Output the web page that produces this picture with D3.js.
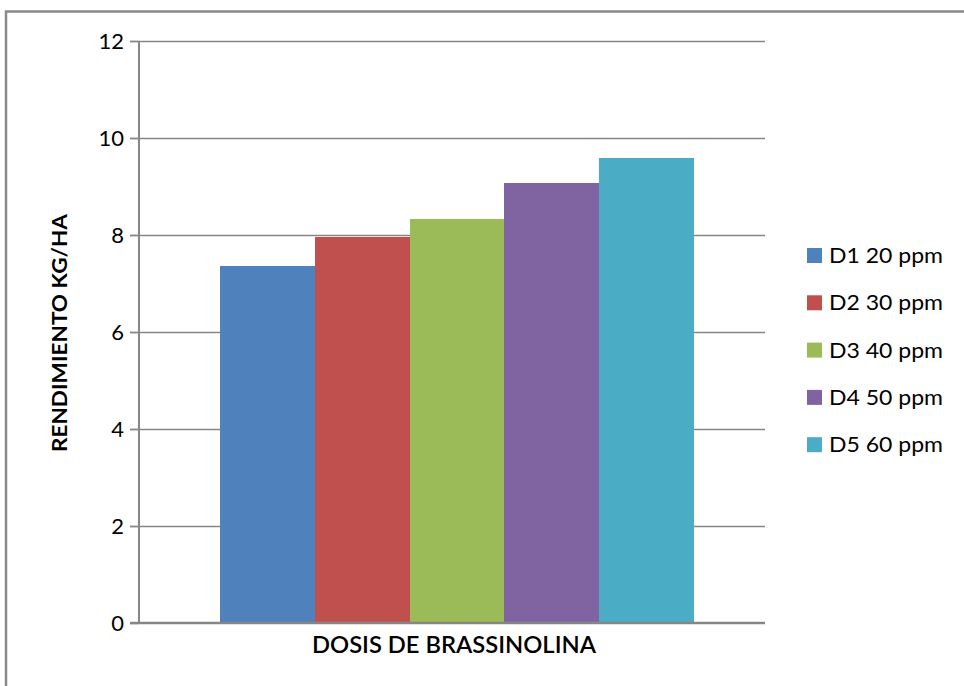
<!DOCTYPE html>
<html>
<head>
<meta charset="utf-8">
<script src="https://cdn.jsdelivr.net/npm/d3@7/dist/d3.min.js"></script>
<style>
  html, body { margin: 0; padding: 0; background: #fff; }
  svg { display: block; }
  text { font-family: Lato, "Open Sans", sans-serif; fill: #000; }
</style>
</head>
<body>
<svg id="chart" width="964" height="686"></svg>
<script>
// Yield by brassinolide dose
const categories = ["DOSIS DE BRASSINOLINA"];
const seriesNames = ["D1 20 ppm", "D2 30 ppm", "D3 40 ppm", "D4 50 ppm", "D5 60 ppm"];
const seriesValues = [7.37, 7.95, 8.34, 9.08, 9.58];
const seriesColors = ["#4F81BD", "#C0504D", "#9BBB59", "#8064A2", "#4BACC6"];
const yTicks = [0, 2, 4, 6, 8, 10, 12];
const yTitle = "RENDIMIENTO KG/HA";

const svg = d3.select("#chart");

// chart frame (open on the right and bottom)
svg.append("path")
  .attr("d", "M6,686 V11.5 H964")
  .attr("fill", "none")
  .attr("stroke", "#8a8a8a")
  .attr("stroke-width", 2.5);

const plot = { left: 139, right: 765, top: 41, bottom: 623 };

const y = d3.scaleLinear().domain([0, 12]).range([plot.bottom, plot.top]);
const xCat = d3.scaleBand().domain(categories).range([plot.left, plot.right]);
const xSeries = d3.scaleBand().domain(seriesNames).range([220, 694]);

// horizontal gridlines with outward tick marks
svg.append("g")
  .selectAll("line")
  .data(yTicks.filter(t => t > 0))
  .join("line")
  .attr("x1", plot.left - 9)
  .attr("x2", plot.right)
  .attr("y1", d => Math.round(y(d)) + 0.5)
  .attr("y2", d => Math.round(y(d)) + 0.5)
  .attr("stroke", "#868686")
  .attr("stroke-width", 1.4);

// bars
svg.append("g")
  .attr("shape-rendering", "crispEdges")
  .selectAll("rect")
  .data(seriesNames.map((n, i) => ({ name: n, value: seriesValues[i], color: seriesColors[i] })))
  .join("rect")
  .attr("x", d => Math.round(xSeries(d.name)))
  .attr("width", d => Math.round(xSeries(d.name) + xSeries.bandwidth()) - Math.round(xSeries(d.name)))
  .attr("y", d => y(d.value))
  .attr("height", d => y(0) - y(d.value))
  .attr("fill", d => d.color);

// y axis via d3.axisLeft, restyled
const yAxis = svg.append("g")
  .attr("transform", `translate(${plot.left},0)`)
  .call(d3.axisLeft(y).tickValues(yTicks).tickSize(9).tickPadding(6).tickFormat(d3.format("d")));
yAxis.select(".domain").attr("stroke", "#868686").attr("stroke-width", 2).attr("d", `M0,${plot.top}V${plot.bottom}`);
yAxis.selectAll(".tick line").attr("stroke", "#868686").attr("stroke-width", 1.4);
yAxis.selectAll(".tick text")
  .attr("font-family", "Lato, sans-serif")
  .attr("font-size", 22)
  .attr("fill", "#111");

// x axis line
svg.append("line")
  .attr("x1", plot.left - 9)
  .attr("x2", plot.right)
  .attr("y1", y(0))
  .attr("y2", y(0))
  .attr("stroke", "#868686")
  .attr("stroke-width", 2.4);

// category label
svg.append("text")
  .attr("x", xCat(categories[0]) + xCat.bandwidth() / 2 + 2)
  .attr("y", 653)
  .attr("text-anchor", "middle")
  .attr("font-size", 22)
  .attr("font-weight", "600")
  .attr("textLength", 284)
  .attr("lengthAdjust", "spacingAndGlyphs")
  .text(categories[0]);

// y axis title
svg.append("text")
  .attr("transform", "translate(67,333) rotate(-90)")
  .attr("text-anchor", "middle")
  .attr("font-size", 20)
  .attr("font-weight", "bold")
  .attr("textLength", 238)
  .attr("lengthAdjust", "spacingAndGlyphs")
  .text(yTitle);

// legend
const legend = svg.append("g").attr("transform", "translate(807,255)");
const rows = legend.selectAll("g")
  .data(seriesNames)
  .join("g")
  .attr("transform", (d, i) => `translate(0,${i * 47.3})`);
rows.append("rect")
  .attr("x", 0)
  .attr("y", -7)
  .attr("width", 15)
  .attr("height", 15)
  .attr("fill", (d, i) => seriesColors[i]);
rows.append("text")
  .attr("x", 22)
  .attr("y", 8)
  .attr("font-size", 22)
  .attr("textLength", 114)
  .attr("lengthAdjust", "spacingAndGlyphs")
  .text(d => d);
</script>
</body>
</html>
